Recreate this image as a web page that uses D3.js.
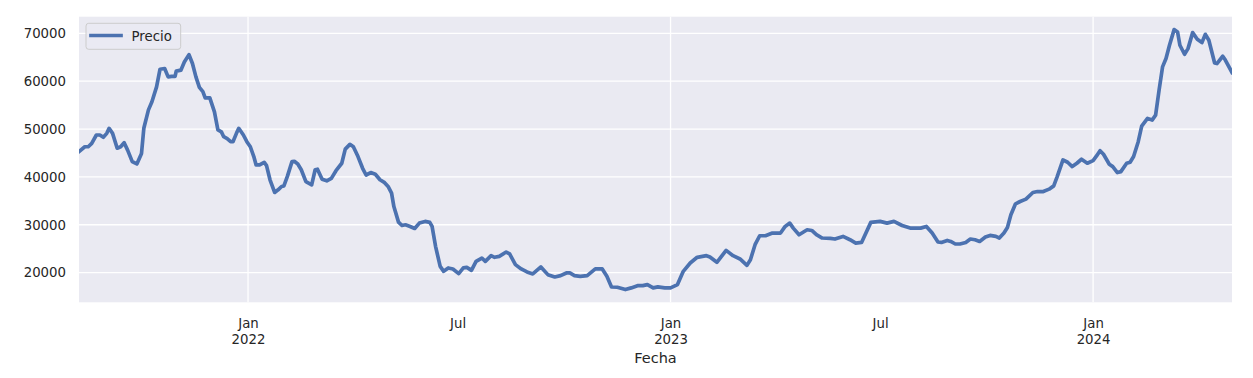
<!DOCTYPE html>
<html>
<head>
<meta charset="utf-8">
<script src="https://cdn.jsdelivr.net/npm/d3@7"></script>
<style>
  html, body { margin: 0; padding: 0; background: #ffffff; }
  svg { display: block; font-family: "DejaVu Sans", sans-serif; }
</style>
</head>
<body>
<svg id="chart" width="1253" height="378"></svg>
<script>
// ---- Data ----
const dates = [
"2021-08-08","2021-08-13","2021-08-16","2021-08-19","2021-08-23","2021-08-26","2021-08-29","2021-09-01","2021-09-03","2021-09-06",
"2021-09-10","2021-09-13","2021-09-16","2021-09-19","2021-09-23","2021-09-27","2021-10-01","2021-10-03","2021-10-07","2021-10-10",
"2021-10-14","2021-10-17","2021-10-21","2021-10-24","2021-10-27","2021-10-30","2021-10-31","2021-11-04","2021-11-07","2021-11-11",
"2021-11-14","2021-11-17","2021-11-20","2021-11-23","2021-11-25","2021-11-29","2021-12-03","2021-12-06","2021-12-09","2021-12-11",
"2021-12-14","2021-12-17","2021-12-19","2021-12-22","2021-12-24","2021-12-28","2021-12-31","2022-01-03","2022-01-06","2022-01-08",
"2022-01-11","2022-01-15","2022-01-17","2022-01-20","2022-01-24","2022-01-27","2022-01-30","2022-02-01","2022-02-04","2022-02-08",
"2022-02-10","2022-02-13","2022-02-16","2022-02-20","2022-02-25","2022-02-28","2022-03-02","2022-03-06","2022-03-10","2022-03-14",
"2022-03-18","2022-03-23","2022-03-26","2022-03-30","2022-04-02","2022-04-06","2022-04-10","2022-04-13","2022-04-17","2022-04-21",
"2022-04-25","2022-04-29","2022-05-02","2022-05-05","2022-05-07","2022-05-11","2022-05-14","2022-05-17","2022-05-21","2022-05-25",
"2022-05-29","2022-06-03","2022-06-07","2022-06-09","2022-06-12","2022-06-16","2022-06-19","2022-06-23","2022-06-27","2022-07-02",
"2022-07-06","2022-07-09","2022-07-13","2022-07-17","2022-07-22","2022-07-25","2022-07-30","2022-08-02","2022-08-06","2022-08-12",
"2022-08-15","2022-08-20","2022-08-25","2022-08-30","2022-09-04","2022-09-11","2022-09-17","2022-09-23","2022-09-28","2022-10-03",
"2022-10-06","2022-10-10","2022-10-15","2022-10-21","2022-10-28","2022-10-31","2022-11-03","2022-11-07","2022-11-11","2022-11-16",
"2022-11-23","2022-11-28","2022-12-04","2022-12-08","2022-12-12","2022-12-17","2022-12-21","2022-12-27","2023-01-01","2023-01-07",
"2023-01-12","2023-01-18","2023-01-24","2023-02-01","2023-02-04","2023-02-10","2023-02-18","2023-02-24","2023-03-02","2023-03-08",
"2023-03-11","2023-03-15","2023-03-19","2023-03-24","2023-03-30","2023-04-06","2023-04-10","2023-04-14","2023-04-17","2023-04-22",
"2023-04-29","2023-05-03","2023-05-07","2023-05-12","2023-05-19","2023-05-23","2023-05-30","2023-06-05","2023-06-10","2023-06-15",
"2023-06-23","2023-07-01","2023-07-07","2023-07-13","2023-07-20","2023-07-27","2023-08-05","2023-08-10","2023-08-15","2023-08-20",
"2023-08-23","2023-08-28","2023-08-31","2023-09-04","2023-09-08","2023-09-13","2023-09-17","2023-09-21","2023-09-25","2023-09-30",
"2023-10-04","2023-10-09","2023-10-12","2023-10-16","2023-10-19","2023-10-22","2023-10-26","2023-10-30","2023-11-04","2023-11-10",
"2023-11-14","2023-11-19","2023-11-24","2023-11-28","2023-12-01","2023-12-06","2023-12-10","2023-12-14","2023-12-18","2023-12-22",
"2023-12-27","2024-01-01","2024-01-04","2024-01-07","2024-01-10","2024-01-15","2024-01-18","2024-01-22","2024-01-25","2024-01-30",
"2024-02-02","2024-02-05","2024-02-09","2024-02-12","2024-02-17","2024-02-21","2024-02-24","2024-02-27","2024-03-01","2024-03-04",
"2024-03-07","2024-03-11","2024-03-14","2024-03-16","2024-03-20","2024-03-23","2024-03-27","2024-03-31","2024-04-04","2024-04-07",
"2024-04-10","2024-04-15","2024-04-17","2024-04-22","2024-04-24","2024-04-30"
];
const precio = [
45300,46300,46300,47000,48750,48750,48270,49100,50150,49100,
46000,46300,47150,45600,43200,42700,44900,50150,54000,55700,
58800,62500,62650,60900,61000,61000,62100,62300,64000,65550,
63700,60900,58700,57800,56500,56500,53600,49800,49400,48400,
48000,47350,47350,49100,50150,48750,47350,46300,44250,42500,
42500,43050,42350,39400,36750,37300,38000,38100,40100,43200,
43250,42700,41500,39000,38350,41500,41600,39500,39170,39700,
41300,42850,45800,46800,46300,44250,41800,40400,40900,40550,
39400,38800,38000,36600,33800,30550,29850,30000,29650,29230,
30350,30700,30500,29650,25500,21300,20270,20980,20770,19800,
20980,21100,20480,22350,23050,22350,23540,23200,23400,24300,
23900,21670,20770,20150,19730,21190,19580,19100,19375,19930,
19930,19375,19230,19375,20770,20770,20770,19230,17000,16940,
16460,16810,17290,17290,17500,16810,17020,16810,16810,17500,
20270,22020,23200,23540,23270,22150,24650,23540,22850,21520,
22700,25830,27700,27700,28270,28270,29650,30350,29300,27920,
28960,28810,27920,27230,27150,27020,27560,26875,26180,26310,
30500,30700,30350,30700,29850,29300,29300,29650,28270,26400,
26310,26730,26520,25980,25980,26310,27020,26875,26520,27440,
27770,27560,27230,28270,29440,32080,34375,34860,35350,36740,
36940,36940,37440,38125,40060,43540,43060,42150,42850,43690,
42850,43400,44375,45480,44730,42650,42150,40900,41100,42850,
43060,44250,47350,50625,52230,51875,52900,58125,62980,64730,
67500,70770,70280,67500,65625,66800,70140,68750,68060,69790,
68540,63810,63680,65210,64520,61810
];
const seriesName = "Precio";
const yTicks = [20000, 30000, 40000, 50000, 60000, 70000];
const yDomain = [13800, 73470];
const xTickDates = ["2022-01-01","2022-07-01","2023-01-01","2023-07-01","2024-01-01"];
const xTickLabels = [["Jan","2022"],["Jul"],["Jan","2023"],["Jul"],["Jan","2024"]];
const xGridDates = ["2022-01-01","2023-01-01","2024-01-01"];
const xLabel = "Fecha";

// ---- Layout ----
const parse = d3.utcParse("%Y-%m-%d");
const data = dates.map((d, i) => ({ date: parse(d), value: precio[i] }));
const L = 79, R = 1232, T = 16.7, B = 302.3;
const textColor = "#262626";
const lineColor = "#4C72B0";

const svg = d3.select("#chart");
const x = d3.scaleUtc().domain(d3.extent(data, d => d.date)).range([L, R]);
const y = d3.scaleLinear().domain(yDomain).range([B, T]);

svg.append("rect").attr("x", L).attr("y", T).attr("width", R - L).attr("height", B - T).attr("fill", "#EAEAF2");

svg.append("defs").append("clipPath").attr("id", "clip")
  .append("rect").attr("x", L).attr("y", T).attr("width", R - L).attr("height", B - T);

// gridlines
const grid = svg.append("g");
grid.selectAll("line.h").data(yTicks).join("line")
  .attr("x1", L).attr("x2", R).attr("y1", d => y(d)).attr("y2", d => y(d))
  .attr("stroke", "#ffffff").attr("stroke-width", 1.3);
grid.selectAll("line.v").data(xGridDates.map(parse)).join("line")
  .attr("x1", d => x(d)).attr("x2", d => x(d)).attr("y1", T).attr("y2", B)
  .attr("stroke", "#ffffff").attr("stroke-width", 1.3);

// y axis labels
const yAxis = d3.axisLeft(y).tickValues(yTicks).tickSize(0).tickPadding(0).tickFormat(d3.format("d"));
const gy = svg.append("g").attr("transform", `translate(${L - 13},0)`).call(yAxis);
gy.select(".domain").remove();
gy.selectAll("text").attr("fill", textColor).style("font-size", "13.3px").style("font-family", "DejaVu Sans");

// x axis labels
const xAxis = d3.axisBottom(x).tickValues(xTickDates.map(parse)).tickSize(0).tickFormat(() => "");
const gx = svg.append("g").attr("transform", `translate(0,${B})`).call(xAxis);
gx.select(".domain").remove();
gx.selectAll(".tick text").each(function(d, i) {
  const t = d3.select(this).attr("y", 0).attr("dy", null)
    .attr("fill", textColor).style("font-size", "13.3px").style("font-family", "DejaVu Sans");
  xTickLabels[i].forEach((s, k) => {
    t.append("tspan").attr("x", 0).attr("y", 25.7 + k * 16).text(s);
  });
});

svg.append("text").attr("x", (L + R) / 2).attr("y", 362.5).attr("text-anchor", "middle")
  .attr("fill", textColor).style("font-size", "14.5px").text(xLabel);

// line
const line = d3.line().x(d => x(d.date)).y(d => y(d.value));
svg.append("path").datum(data).attr("clip-path", "url(#clip)")
  .attr("d", line).attr("fill", "none").attr("stroke", lineColor)
  .attr("stroke-width", 3.7).attr("stroke-linejoin", "round").attr("stroke-linecap", "square");

// legend
const lg = svg.append("g");
lg.append("rect").attr("x", 86).attr("y", 23.3).attr("width", 94.7).attr("height", 26)
  .attr("rx", 2.7).attr("fill", "#EAEAF2").attr("fill-opacity", 0.8)
  .attr("stroke", "#cccccc").attr("stroke-width", 1);
lg.append("line").attr("x1", 91).attr("x2", 121).attr("y1", 35.5).attr("y2", 35.5)
  .attr("stroke", lineColor).attr("stroke-width", 3.7).attr("stroke-linecap", "square");
lg.append("text").attr("x", 131.5).attr("y", 40.5).attr("fill", textColor)
  .style("font-size", "13.3px").text(seriesName);
</script>
</body>
</html>
